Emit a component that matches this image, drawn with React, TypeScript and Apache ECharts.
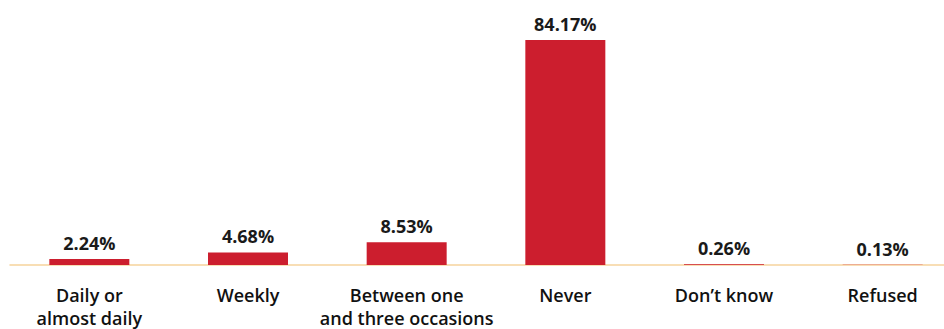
import React, { useEffect, useRef } from "react";
import * as echarts from "echarts";

const categories = [
  "Daily or\nalmost daily",
  "Weekly",
  "Between one\nand three occasions",
  "Never",
  "Don’t know",
  "Refused",
];
const shares = [2.24, 4.68, 8.53, 84.17, 0.26, 0.13];

export default function App() {
  const ref = useRef<HTMLDivElement>(null);

  useEffect(() => {
    if (!ref.current) return;
    const chart = echarts.init(ref.current, null, { renderer: "svg" });
    chart.setOption({
      animation: false,
      backgroundColor: "#ffffff",
      grid: { left: 10, right: 0, top: 40, bottom: 63 },
      xAxis: {
        type: "category",
        data: categories,
        axisLine: { show: true, lineStyle: { color: "#f6d39c", width: 1.5 } },
        axisTick: { show: false },
        axisLabel: {
          color: "#111111",
          fontFamily: "Open Sans",
          fontWeight: 600,
          fontSize: 18,
          lineHeight: 23,
          margin: 18,
          interval: 0,
        },
      },
      yAxis: {
        type: "value",
        min: 0,
        max: 84.17,
        show: false,
        splitLine: { show: false },
      },
      series: [
        {
          type: "bar",
          data: shares,
          barWidth: 80,
          itemStyle: { color: "#cc1e2e" },
          label: {
            show: true,
            position: "top",
            distance: 7,
            formatter: (p: any) => `${p.value.toFixed(2)}%`,
            color: "#1a1a1a",
            fontFamily: "Open Sans",
            fontWeight: "bold",
            fontSize: 18,
          },
        },
      ],
    });
    return () => chart.dispose();
  }, []);

  return (
    <div
      style={{
        position: "absolute",
        left: 0,
        top: 0,
        width: 944,
        height: 329,
        overflow: "hidden",
      }}
    >
      <div ref={ref} style={{ width: 962, height: 329 }} />
    </div>
  );
}
